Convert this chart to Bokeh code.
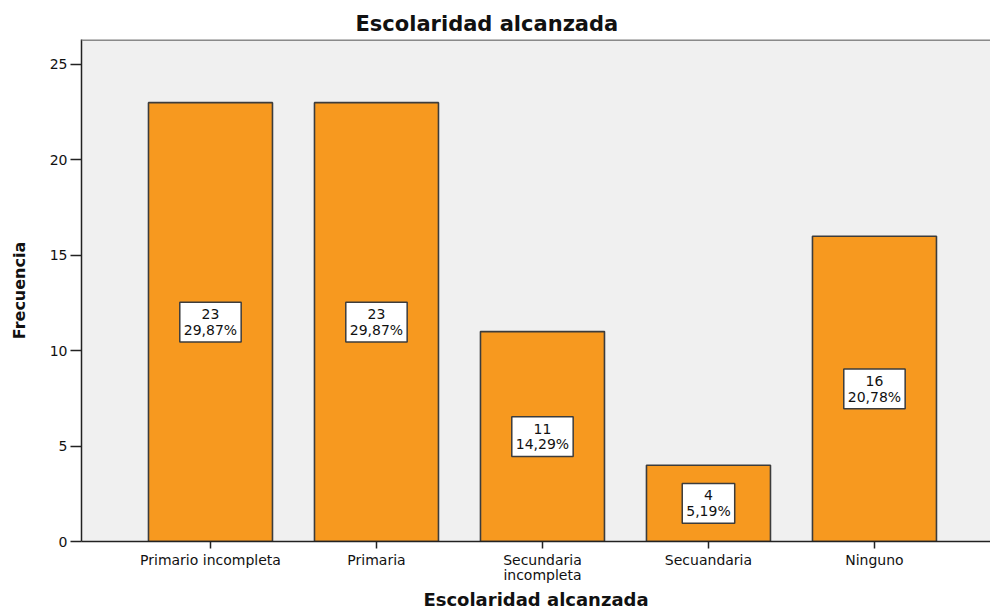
from bokeh.plotting import figure
from bokeh.models import ColumnDataSource, FixedTicker, Range1d, Span
from bokeh.core.properties import value
from bokeh.embed import file_html
from bokeh.resources import INLINE

categories = ["Primario incompleta", "Primaria", "Secundaria\nincompleta", "Secuandaria", "Ninguno"]
counts = [23, 23, 11, 4, 16]
percents = ["29,87%", "29,87%", "14,29%", "5,19%", "20,78%"]
y_ticks = [0, 5, 10, 15, 20, 25]

xs = list(range(len(categories)))
labels = [f"{c}\n{p}" for c, p in zip(counts, percents)]
src = ColumnDataSource(dict(x=xs, top=counts, mid=[c / 2 for c in counts], label=labels))

FONT = "DejaVu Sans"
Y_TOP = 26.31

p = figure(width=990, height=612, output_backend="svg", toolbar_location=None,
           x_range=Range1d(-0.777, 4.699), y_range=Range1d(0, Y_TOP),
           min_border_left=81, min_border_right=0, min_border_top=39, min_border_bottom=71,
           background_fill_color="#F0F0F0", border_fill_color="white")

p.vbar(x="x", top="top", width=0.747, bottom=0, source=src,
       fill_color="#F7991F", line_color="#3C3C3C", line_width=1.6)

p.text(x="x", y="mid", text="label", source=src, text_align="center", text_baseline="middle",
       text_font=value(FONT), text_font_size="14px", text_color="#111111", text_line_height=0.98,
       background_fill_color="white", border_line_color="#3C3C3C", border_line_width=1.5,
       padding=4)

p.add_layout(Span(location=Y_TOP, dimension="width", line_color="#8A8A8A", line_width=3))

p.title.text = "Escolaridad alcanzada"
p.title.text_font = FONT
p.title.text_font_size = "21px"
p.title.text_font_style = "bold"
p.title.text_color = "#111111"
p.title.align = "left"
p.title.offset = 274
p.title.standoff = 8

p.xgrid.visible = False
p.ygrid.visible = False
p.outline_line_color = None

xa = p.xaxis[0]
xa.ticker = FixedTicker(ticks=xs)
xa.major_label_overrides = {i: c for i, c in enumerate(categories)}
xa.minor_tick_line_color = None
xa.major_tick_out = 7
xa.major_tick_in = 0
xa.major_label_text_font = FONT
xa.major_label_text_font_size = "14px"
xa.major_label_text_color = "#111111"
xa.major_label_text_line_height = 0.95
xa.major_label_standoff = 3
xa.axis_line_color = "#222222"
xa.axis_line_width = 1.5
xa.major_tick_line_color = "#222222"
xa.major_tick_line_width = 1.5
xa.axis_label = "Escolaridad alcanzada"
xa.axis_label_text_font = FONT
xa.axis_label_text_font_size = "18px"
xa.axis_label_text_font_style = "bold"
xa.axis_label_text_color = "#111111"
xa.axis_label_standoff = 3

ya = p.yaxis[0]
ya.ticker = FixedTicker(ticks=y_ticks)
ya.minor_tick_line_color = None
ya.major_tick_out = 11
ya.major_tick_in = 0
ya.major_label_text_font = FONT
ya.major_label_text_font_size = "14px"
ya.major_label_text_color = "#111111"
ya.major_label_standoff = 3
ya.axis_line_color = "#222222"
ya.axis_line_width = 1.5
ya.major_tick_line_color = "#222222"
ya.major_tick_line_width = 1.5
ya.axis_label = "Frecuencia"
ya.axis_label_text_font = FONT
ya.axis_label_text_font_size = "16px"
ya.axis_label_text_font_style = "bold"
ya.axis_label_text_color = "#111111"
ya.axis_label_standoff = 18

open("out.html", "w").write(file_html(p, INLINE))
